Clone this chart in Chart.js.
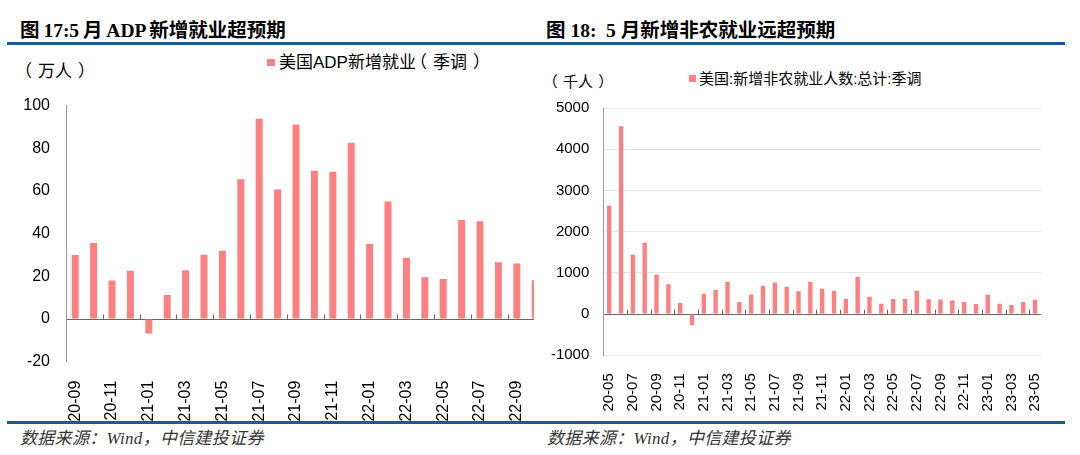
<!DOCTYPE html>
<html lang="zh-CN">
<head>
<meta charset="utf-8">
<script src="https://cdn.jsdelivr.net/npm/chart.js@4.4.0/dist/chart.umd.min.js"></script>
<style>
body { margin: 0; width: 1080px; height: 455px; position: relative; overflow: hidden; background: #fff;
       font-family: "Liberation Sans", Arial, "Noto Sans CJK SC", sans-serif; color: #000; }
.t { position: absolute; white-space: nowrap; }
.title { font-family: "Liberation Serif", "Noto Sans CJK SC", serif; font-weight: bold; font-size: 19.5px; line-height: 20px; top: 21px; }
.rule { position: absolute; left: 7px; width: 1058px; height: 3px; background: #1e5b8c; }
.src { font-family: "Liberation Serif", "Noto Sans CJK SC", serif; font-style: italic; font-size: 17px; line-height: 17px;
       letter-spacing: 0.3px; top: 430px; color: #333; }
.sq { position: absolute; background: #ff8080; }
/* 括号往外挪一点，和原图的留白一致 */
.pl { display: inline-block; position: relative; left: -0.35em; }
.pr { display: inline-block; position: relative; left: 0.35em; }
</style>
</head>
<body>
<div class="t title" style="left:20px;word-spacing:-1px">图 17:5 月 ADP 新增就业超预期</div>
<div class="t title" style="left:546px">图 18:&nbsp; 5 月新增非农就业远超预期</div>
<div class="rule" style="top:42px"></div>

<div class="t" style="left:21px;top:63px;font-size:17px;line-height:17px"><span class="pl">（</span>万人<span class="pr">）</span></div>
<div class="sq" style="left:267px;top:59px;width:8px;height:7px"></div>
<div class="t" style="left:279px;top:54px;font-size:17px;line-height:17px">美国ADP新增就业<span class="pl">（</span>季调<span class="pr">）</span></div>

<div class="t" style="left:548px;top:74px;font-size:15px;line-height:15px"><span class="pl">（</span>千人<span class="pr">）</span></div>
<div class="sq" style="left:689px;top:75px;width:7px;height:7px"></div>
<div class="t" style="left:699px;top:71px;font-size:15px;line-height:15px">美国:新增非农就业人数:总计:季调</div>

<div style="position:absolute;left:0;top:80px;width:534px;height:345px;overflow:hidden">
  <div style="position:relative;width:546px;height:345px"><canvas id="adp"></canvas></div>
</div>
<div style="position:absolute;left:540px;top:80px;width:510px;height:340px"><canvas id="nfp"></canvas></div>

<div class="rule" style="top:421px"></div>
<div class="t src" style="left:20px">数据来源：Wind，中信建投证券</div>
<div class="t src" style="left:547px">数据来源：Wind，中信建投证券</div>

<script>
'use strict';

// 图17: 美国ADP新增就业（季调），万人
const adpMonths = ['20-09', '20-10', '20-11', '20-12', '21-01', '21-02', '21-03', '21-04', '21-05', '21-06',
    '21-07', '21-08', '21-09', '21-10', '21-11', '21-12', '22-01', '22-02', '22-03', '22-04',
    '22-05', '22-06', '22-07', '22-08', '22-09', '22-10'];
const adpValues = [30, 35.6, 18, 22.6, -6.8, 11.3, 22.9, 30.1, 32, 65.5,
    93.8, 60.7, 91.2, 69.5, 69, 82.6, 35.1, 55.1, 28.7, 19.6,
    18.8, 46.4, 45.8, 26.6, 26, 18.2];

// 图18: 美国:新增非农就业人数:总计:季调，千人
const nfpMonths = ['20-05', '20-06', '20-07', '20-08', '20-09', '20-10', '20-11', '20-12',
    '21-01', '21-02', '21-03', '21-04', '21-05', '21-06', '21-07', '21-08', '21-09', '21-10', '21-11', '21-12',
    '22-01', '22-02', '22-03', '22-04', '22-05', '22-06', '22-07', '22-08', '22-09', '22-10', '22-11', '22-12',
    '23-01', '23-02', '23-03', '23-04', '23-05'];
const nfpValues = [2630, 4560, 1440, 1730, 960, 720, 265, -275,
    490, 580, 780, 290, 475, 685, 765, 660, 550, 780, 615, 565,
    365, 905, 420, 250, 365, 365, 565, 355, 350, 325, 290, 240,
    470, 250, 220, 290, 345];

const barColor = '#ff8080';
Chart.defaults.font.family = '"Liberation Sans", Arial, sans-serif';
Chart.defaults.color = '#000';

// 零线上每两根柱子之间的小刻度
const pairTicks = {
    id: 'pairTicks',
    afterDatasetsDraw(chart) {
        let x = chart.scales.x,
            y0 = Math.round(chart.scales.y.getPixelForValue(0)) + 0.5,
            ctx = chart.ctx;
        ctx.save();
        ctx.strokeStyle = '#666';
        ctx.lineWidth = 1;
        ctx.beginPath();
        for (let i = 1; i < x.ticks.length - 1; i += 2) {
            let px = Math.round((x.getPixelForTick(i) + x.getPixelForTick(i + 1)) / 2) + 0.5;
            ctx.moveTo(px, y0);
            ctx.lineTo(px, y0 - 5);
        }
        ctx.stroke();
        ctx.restore();
    }
};

function makeChart(id, labels, values, cfg) {
    return new Chart(document.getElementById(id), {
        type: 'bar',
        data: {
            labels: labels,
            datasets: [{
                data: values,
                backgroundColor: barColor,
                borderWidth: 0,
                barPercentage: cfg.barPct,
                categoryPercentage: 1
            }]
        },
        options: {
            responsive: true,
            maintainAspectRatio: false,
            animation: false,
            layout: { padding: cfg.padding },
            plugins: { legend: { display: false }, tooltip: { enabled: false } },
            scales: {
                x: {
                    grid: { display: false },
                    border: { display: false },
                    ticks: {
                        autoSkip: false,
                        minRotation: 90,
                        maxRotation: 90,
                        padding: cfg.xPad,
                        font: { size: cfg.xFont },
                        callback: (v, i) => i % 2 === 0 ? labels[i] : ''
                    },
                    afterFit: (s) => {
                        s.height = cfg.xHeight;
                        s.paddingLeft = 0;
                        s.paddingRight = 0;
                    }
                },
                y: {
                    min: cfg.min,
                    max: cfg.max,
                    border: { display: true, color: '#999' },
                    grid: {
                        drawTicks: false,
                        color: (c) => c.tick.value === 0 ? '#666' : cfg.gridColor
                    },
                    ticks: {
                        stepSize: cfg.step,
                        padding: cfg.yPad,
                        font: { size: cfg.yFont },
                        callback: (v) => String(v)
                    },
                    afterFit: (s) => { s.width = cfg.yWidth; }
                }
            }
        },
        plugins: [pairTicks]
    });
}

makeChart('adp', adpMonths, adpValues, {
    barPct: 0.38, min: -20, max: 100, step: 20,
    padding: { top: 17.7, right: 1.6, left: 0, bottom: 0 },
    yWidth: 66, yPad: 16, yFont: 16,
    xHeight: 63.3, xPad: 11, xFont: 16,
    gridColor: 'rgba(0,0,0,0)'
});

makeChart('nfp', nfpMonths, nfpValues, {
    barPct: 0.37, min: -1000, max: 5000, step: 1000,
    padding: { top: 28, right: 9, left: 0, bottom: 0 },
    yWidth: 63.3, yPad: 14, yFont: 15,
    xHeight: 64.8, xPad: 10, xFont: 15,
    gridColor: '#e6e6e6'
});
</script>
</body>
</html>
